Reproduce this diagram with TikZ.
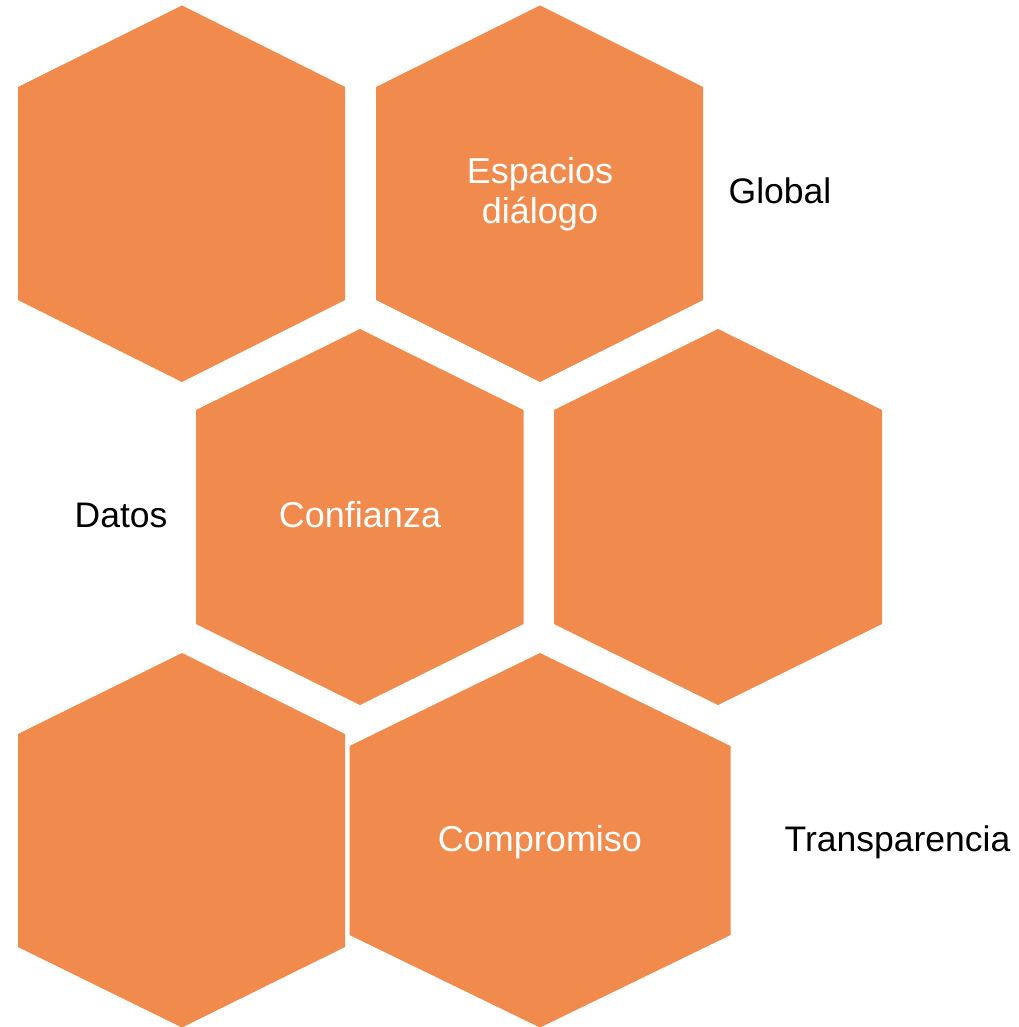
\documentclass[tikz,border=0pt]{standalone}
\usepackage{fontspec}
\setmainfont{Liberation Sans}
\definecolor{hexorange}{RGB}{240,138,77}
\tikzset{
  hexfill/.style={fill=hexorange, draw=none},
  intext/.style={text=white, inner sep=0pt, anchor=base, font=\fontsize{36}{40}\selectfont},
  outtext/.style={text=black, inner sep=0pt, anchor=base, font=\fontsize{35.5}{40}\selectfont}
}
\begin{document}
\begin{tikzpicture}[x=1pt,y=-1pt]
\useasboundingbox (0,0) rectangle (1018,1027);
% row 1
\fill[hexfill] (182,5.5) -- (345,87) -- (345,300) -- (182,382) -- (18,300) -- (18,87) -- cycle;
\fill[hexfill] (540,5.5) -- (703,87) -- (703,300) -- (540,382) -- (376,300) -- (376,87) -- cycle;
% row 2
\fill[hexfill] (360,329) -- (523.5,410) -- (523.5,624) -- (360,705) -- (196,624) -- (196,410) -- cycle;
\fill[hexfill] (718,329) -- (882,410) -- (882,624) -- (718,705) -- (554,624) -- (554,410) -- cycle;
% row 3
\fill[hexfill] (182,653) -- (345,734) -- (345,947) -- (182,1027.5) -- (18,947) -- (18,734) -- cycle;
\fill[hexfill] (540,653) -- (730.5,746) -- (730.5,935) -- (540,1027.5) -- (349.5,935) -- (349.5,746) -- cycle;
% texts
\node[intext] (espacios) at (540,183) {Espacios};
\node[intext] (dialogo) at (540,223) {diálogo};
\node[outtext] (global) at (780,203) {Global};
\node[outtext] (datos) at (121,527) {Datos};
\node[intext] (confianza) at (360,527) {Confianza};
\node[intext] (compromiso) at (540,851) {Compromiso};
\node[outtext] (transparencia) at (897.5,851) {Transparencia};
\end{tikzpicture}
\end{document}
